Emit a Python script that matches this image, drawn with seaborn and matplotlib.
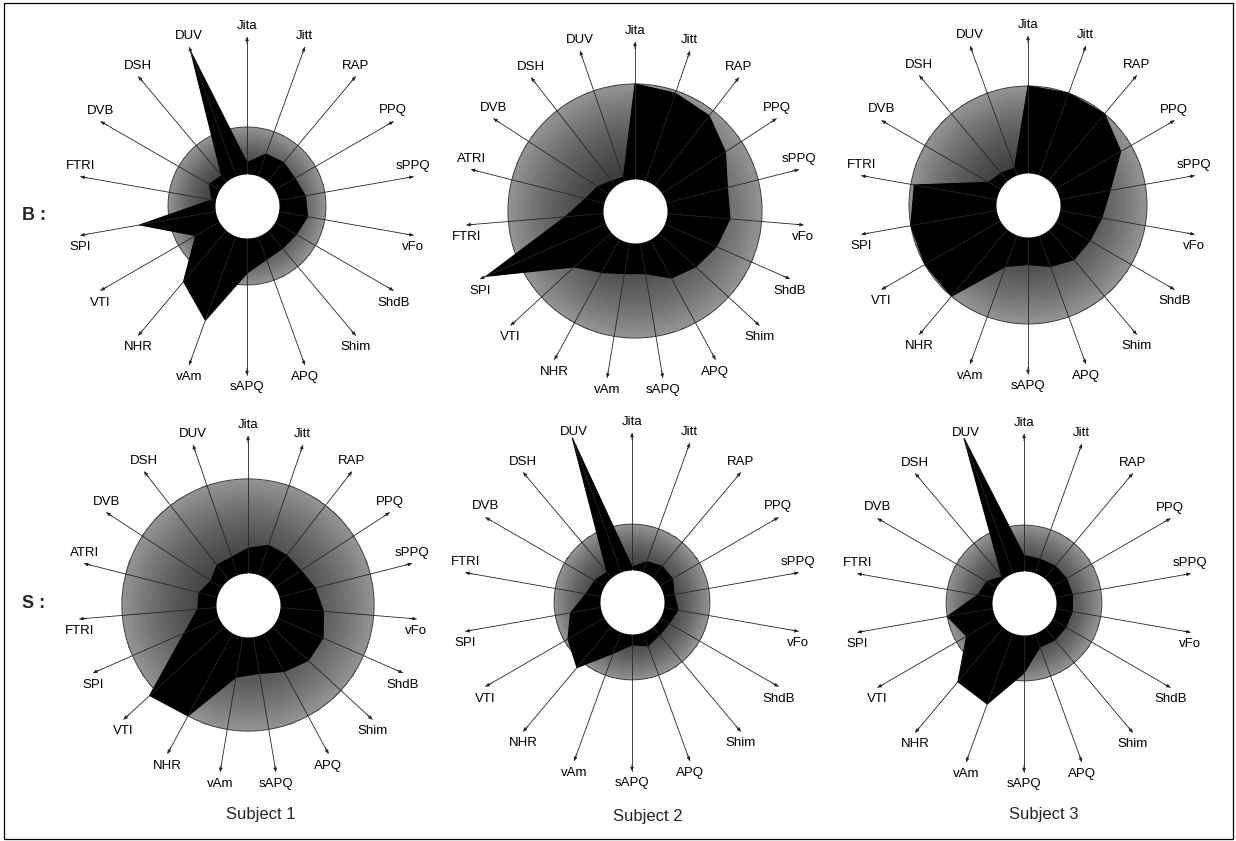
import numpy as np
import pandas as pd
import matplotlib
matplotlib.use("Agg")
import matplotlib.pyplot as plt
import matplotlib.transforms as mtransforms
import seaborn as sns

sns.set_theme(style="white")
plt.rcParams["font.family"] = ["Liberation Sans", "DejaVu Sans"]

# Parameter names around each voice profile (clockwise from the top)
params_18 = ["Jita", "Jitt", "RAP", "PPQ", "sPPQ", "vFo", "ShdB", "Shim", "APQ",
             "sAPQ", "vAm", "NHR", "VTI", "SPI", "FTRI", "DVB", "DSH", "DUV"]
params_19 = ["Jita", "Jitt", "RAP", "PPQ", "sPPQ", "vFo", "ShdB", "Shim", "APQ",
             "sAPQ", "vAm", "NHR", "VTI", "SPI", "FTRI", "ATRI", "DVB", "DSH", "DUV"]

# Values relative to the normative threshold (1.0 = edge of the grey disc)
b_subject1 = [0.55, 0.70, 0.72, 0.70, 0.75, 0.78, 0.72, 0.70, 0.72,
              0.85, 1.54, 1.25, 0.75, 1.38, 0.45, 0.55, 0.50, 2.08]
b_subject2 = [1.00, 0.98, 0.95, 0.85, 0.75, 0.75, 0.70, 0.65, 0.60,
              0.50, 0.50, 0.55, 0.65, 1.28, 0.55, 0.40, 0.35, 0.30, 0.28]
b_subject3 = [1.00, 1.00, 1.00, 0.90, 0.70, 0.63, 0.60, 0.60, 0.55,
              0.50, 0.55, 1.00, 1.00, 1.00, 0.97, 0.38, 0.35, 0.33]
s_subject1 = [0.45, 0.50, 0.50, 0.50, 0.55, 0.60, 0.65, 0.65, 0.60,
              0.55, 0.58, 1.00, 1.06, 0.55, 0.40, 0.40, 0.35, 0.40, 0.40]
s_subject2 = [0.45, 0.55, 0.60, 0.60, 0.55, 0.60, 0.55, 0.55, 0.60,
              0.55, 0.70, 1.10, 0.95, 0.80, 0.60, 0.55, 0.50, 2.24]
s_subject3 = [0.61, 0.60, 0.62, 0.63, 0.63, 0.63, 0.62, 0.62, 0.60,
              0.90, 1.38, 1.32, 0.85, 1.00, 0.60, 0.55, 0.44, 2.25]

# Radial value reached at the arrow tip of each profile
axis_max = [2.14, 1.33, 1.42, 1.34, 2.17, 2.17]

row_labels = ["B :", "S :"]
subject_labels = ["Subject 1", "Subject 2", "Subject 3"]

W, H = 1236, 841
fig = plt.figure(figsize=(W / 100, H / 100), dpi=100)

HALF = 200    # half-size of each panel box, px
TIP = 169     # spoke length, px
HOLE = 32     # radius of the white centre, px

panels = [
    ((247, 206), params_18, b_subject1),
    ((635, 211), params_19, b_subject2),
    ((1028, 205), params_18, b_subject3),
    ((248, 605), params_19, s_subject1),
    ((632, 602), params_18, s_subject2),
    ((1024, 603), params_18, s_subject3),
]

ring_theta = np.linspace(0, 2 * np.pi, 361)

for ((cx, cy), names, vals), amax in zip(panels, axis_max):
    ax = fig.add_axes([(cx - HALF) / W, 1 - (cy + HALF) / H, 2 * HALF / W, 2 * HALF / H],
                      projection="polar")
    ax.set_theta_zero_location("N")
    ax.set_theta_direction(-1)
    ax.set_ylim(0, amax * HALF / TIP)
    ax.set_axis_off()

    hole_r = amax * HOLE / TIP
    n = len(names)
    theta = np.deg2rad(np.arange(n) * 360.0 / n)

    # graded grey disc up to the threshold (darker inside, lighter at the rim)
    r_edges = np.linspace(hole_r * 0.9, 1.0, 61)
    t_edges = np.linspace(0, 2 * np.pi, 181)
    s = (0.5 * (r_edges[:-1] + r_edges[1:]) - hole_r) / (1.0 - hole_r)
    s = np.clip(s, 0, 1)
    shade = 0.24 + 0.34 * s ** 1.4
    C = np.repeat(shade[:, None], len(t_edges) - 1, axis=1)
    ax.pcolormesh(t_edges, r_edges, C, cmap="gray", vmin=0, vmax=1,
                  shading="flat", antialiased=False, edgecolors="none", zorder=1)
    ax.plot(ring_theta, np.full_like(ring_theta, 1.0), color="#444444", lw=0.7, zorder=2)

    # subject profile
    th_closed = np.append(theta, theta[0])
    r_closed = np.append(vals, vals[0])
    ax.fill(th_closed, r_closed, color="black", lw=0, zorder=3)
    sns.lineplot(x=th_closed, y=r_closed, sort=False, estimator=None, ax=ax,
                 color="black", lw=0.8, zorder=3)

    # spokes with arrowheads and names
    for t, name in zip(theta, names):
        ax.plot([t, t], [hole_r, amax], color="#262626", lw=0.6, zorder=4)
        ax.annotate("", xy=(t, amax), xytext=(t, amax * 0.96),
                    arrowprops=dict(arrowstyle="-|>", color="#262626", lw=0.6,
                                    mutation_scale=5, shrinkA=0, shrinkB=0),
                    zorder=4, annotation_clip=False)
        dy = 11 if np.cos(t) > 0 else -12
        trans = mtransforms.offset_copy(ax.transData, fig=fig, x=0, y=dy, units="dots")
        ax.text(t, amax, name, transform=trans, ha="center", va="center",
                fontsize=9.5, color="black", clip_on=False, zorder=5)

    # white centre
    ax.fill_between(ring_theta, 0, hole_r, color="white", lw=0, zorder=6)

# row and column captions
for label, y in zip(row_labels, [215, 604]):
    fig.text(22 / W, 1 - y / H, label, fontsize=13, fontweight="bold",
             ha="left", va="center")
for label, x, y in zip(subject_labels, [261, 648, 1044], [815, 817, 814]):
    fig.text(x / W, 1 - y / H, label, fontsize=12, ha="center", va="center")

# outer frame
fig.add_artist(plt.Rectangle((4 / W, 2 / H), 1229 / W, 836 / H, transform=fig.transFigure,
                             fill=False, edgecolor="black", lw=0.9))

fig.savefig("out.png", dpi=100, facecolor="white")
